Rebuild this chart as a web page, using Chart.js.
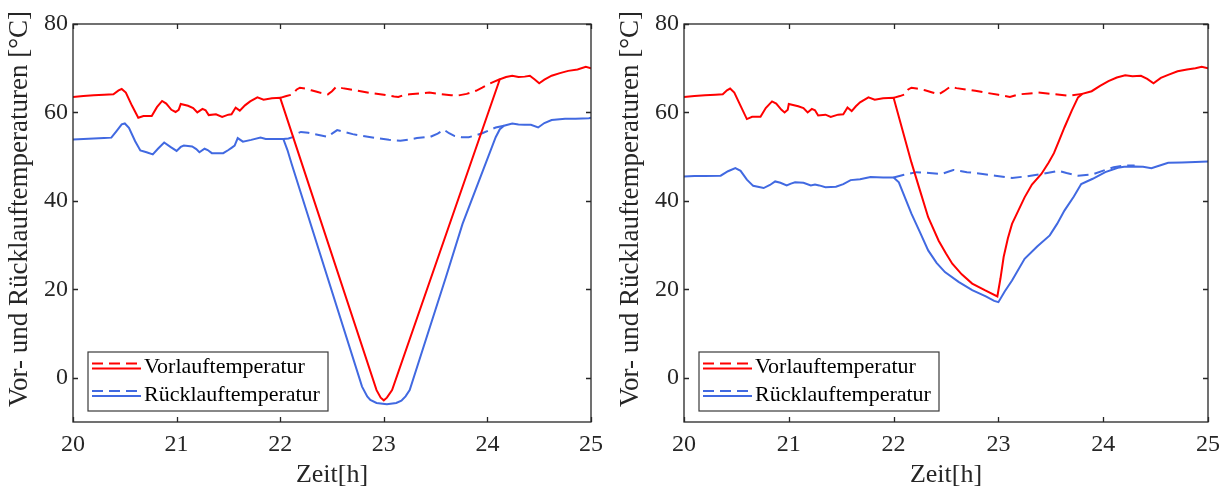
<!DOCTYPE html>
<html>
<head>
<meta charset="utf-8">
<script src="https://cdn.jsdelivr.net/npm/chart.js@4/dist/chart.umd.min.js"></script>
<style>
  body { margin: 0; background: #fff; }
  #wrap { position: relative; width: 1231px; height: 488px; overflow: hidden; }
  canvas { position: absolute; top: 0; }
</style>
</head>
<body>
<div id="wrap">
  <canvas id="chartLinks" width="611" height="488" style="left:0"></canvas>
  <canvas id="chartRechts" width="620" height="488" style="left:611px"></canvas>
</div>
<script>
// tick labels
const xTicks = [20, 21, 22, 23, 24, 25];
const yTicks = [0, 20, 40, 60, 80];
const legendLabels = ["Vorlauftemperatur", "Rücklauftemperatur"];
const yTitel = "Vor- und Rücklauftemperaturen [°C]";

// left plot: [time h, temperature °C]
const vorlaufLinks = [
  [20.0,63.5],[20.1,63.7],[20.2,63.9],[20.3,64.0],[20.39,64.1],[20.44,65.0],[20.47,65.3],[20.51,64.5],
  [20.57,61.5],[20.63,58.8],[20.68,59.2],[20.76,59.2],[20.81,61.2],[20.86,62.6],[20.9,62.0],[20.95,60.6],
  [20.99,60.1],[21.02,60.6],[21.04,61.9],[21.11,61.5],[21.16,61.0],[21.2,60.0],[21.25,60.8],[21.28,60.5],
  [21.31,59.4],[21.38,59.6],[21.44,59.0],[21.5,59.5],[21.53,59.6],[21.57,61.1],[21.61,60.4],[21.66,61.6],
  [21.71,62.5],[21.78,63.4],[21.84,62.9],[21.92,63.2],[22.0,63.3],
  [22.93,-2.8],[22.97,-4.5],[23.0,-5.1],[23.03,-4.5],[23.08,-2.8],[24.12,67.5],
  [24.18,68.0],[24.24,68.3],[24.3,68.0],[24.36,68.1],[24.41,68.3],[24.46,67.4],[24.5,66.6],[24.55,67.4],
  [24.62,68.3],[24.7,68.9],[24.78,69.4],[24.87,69.7],[24.95,70.3],[25.0,70.0]
];
const vorlaufRefLinks = [
  [22.0,63.3],[22.06,63.7],[22.12,64.1],[22.16,65.2],[22.19,65.6],[22.24,65.4],[22.3,65.0],[22.38,64.5],
  [22.46,64.1],[22.5,64.8],[22.54,65.8],[22.6,65.5],[22.65,65.3],[22.75,64.9],[22.87,64.4],[23.0,64.0],
  [23.1,63.6],[23.14,63.5],[23.2,64.0],[23.25,64.1],[23.35,64.3],[23.44,64.5],[23.56,64.1],[23.65,63.9],
  [23.71,63.8],[23.8,64.2],[23.89,64.9],[23.95,65.6],[24.01,66.4],[24.06,66.9],[24.12,67.5]
];
const ruecklaufLinks = [
  [20.0,53.9],[20.1,54.0],[20.2,54.1],[20.3,54.2],[20.37,54.3],[20.42,55.8],[20.47,57.3],[20.5,57.5],
  [20.54,56.5],[20.6,53.5],[20.65,51.4],[20.71,51.0],[20.77,50.5],[20.82,51.8],[20.88,53.2],[20.94,52.2],
  [21.0,51.3],[21.04,52.2],[21.07,52.5],[21.15,52.3],[21.19,51.7],[21.22,51.0],[21.27,51.8],[21.3,51.5],
  [21.34,50.8],[21.45,50.8],[21.5,51.5],[21.53,52.0],[21.56,52.5],[21.59,54.2],[21.64,53.4],[21.72,53.8],
  [21.81,54.3],[21.86,54.0],[21.95,54.0],[22.03,54.0],
  [22.07,51.5],[22.11,48.4],[22.79,-2.0],[22.84,-4.2],[22.87,-5.0],[22.93,-5.7],[23.03,-6.0],[23.12,-5.7],
  [23.17,-5.2],[23.21,-4.2],[23.25,-2.8],[23.6,22.8],[23.76,34.8],[24.08,54.4],[24.12,56.2],[24.16,57.0],
  [24.24,57.5],[24.3,57.3],[24.36,57.2],[24.42,57.2],[24.49,56.6],[24.55,57.6],[24.62,58.3],[24.75,58.6],
  [24.85,58.6],[24.98,58.7],[25.0,58.8]
];
const ruecklaufRefLinks = [
  [22.03,54.0],[22.08,54.1],[22.12,54.4],[22.16,55.2],[22.2,55.6],[22.27,55.4],[22.33,55.1],[22.46,54.5],
  [22.5,55.2],[22.55,56.0],[22.62,55.6],[22.7,55.1],[22.8,54.7],[22.93,54.2],[23.05,53.8],[23.16,53.6],
  [23.25,53.9],[23.32,54.2],[23.45,54.5],[23.52,55.2],[23.58,56.1],[23.63,55.3],[23.68,54.7],[23.75,54.4],
  [23.82,54.4],[23.9,54.9],[23.95,55.3],[24.02,56.0],[24.08,56.6],[24.16,57.0]
];

// right plot
const vorlaufRechts = [
  [20.0,63.5],[20.1,63.7],[20.2,63.9],[20.3,64.0],[20.37,64.1],[20.41,65.0],[20.44,65.4],[20.48,64.5],
  [20.54,61.5],[20.6,58.5],[20.65,59.0],[20.73,59.0],[20.78,61.0],[20.84,62.5],[20.88,62.0],[20.93,60.6],
  [20.96,60.0],[20.99,60.6],[21.0,61.9],[21.09,61.4],[21.14,61.0],[21.18,60.0],[21.22,60.8],[21.25,60.5],
  [21.28,59.3],[21.35,59.5],[21.4,59.0],[21.47,59.5],[21.52,59.6],[21.56,61.1],[21.6,60.3],[21.64,61.4],
  [21.68,62.3],[21.76,63.4],[21.82,62.9],[21.9,63.2],[22.0,63.3],
  [22.17,48.7],[22.25,42.5],[22.33,36.3],[22.43,31.0],[22.5,28.1],[22.56,25.8],[22.65,23.4],[22.75,21.3],
  [22.87,19.8],[22.99,18.4],[23.02,22.5],[23.05,27.3],[23.09,31.5],[23.13,34.8],[23.19,37.8],[23.25,40.8],
  [23.32,43.7],[23.41,46.1],[23.48,48.7],[23.53,50.8],[23.58,53.7],[23.63,56.6],[23.7,60.4],[23.76,63.4],
  [23.8,64.2],[23.89,64.8],[23.97,66.0],[24.05,67.1],[24.13,67.9],[24.21,68.4],[24.28,68.2],[24.36,68.3],
  [24.42,67.6],[24.48,66.6],[24.55,67.8],[24.62,68.5],[24.71,69.3],[24.8,69.7],[24.88,70.0],[24.94,70.3],
  [25.0,70.0]
];
const vorlaufRefRechts = [
  [22.0,63.3],[22.06,63.7],[22.11,64.1],[22.14,65.2],[22.17,65.6],[22.22,65.4],[22.3,65.0],[22.37,64.5],
  [22.43,64.1],[22.48,64.8],[22.54,65.8],[22.6,65.5],[22.69,65.2],[22.78,64.9],[22.87,64.5],[23.0,64.0],
  [23.11,63.5],[23.2,64.1],[23.3,64.3],[23.38,64.5],[23.54,64.1],[23.67,63.8],[23.8,64.2]
];
const ruecklaufRechts = [
  [20.0,45.5],[20.1,45.6],[20.2,45.6],[20.35,45.7],[20.42,46.7],[20.49,47.4],[20.54,46.8],[20.6,44.8],
  [20.66,43.4],[20.76,42.9],[20.82,43.6],[20.87,44.4],[20.92,44.1],[20.98,43.5],[21.02,43.9],[21.06,44.2],
  [21.14,44.1],[21.21,43.5],[21.25,43.7],[21.29,43.5],[21.35,43.1],[21.45,43.2],[21.52,43.8],[21.59,44.7],
  [21.68,44.9],[21.78,45.4],[21.9,45.3],[22.0,45.3],
  [22.05,44.2],[22.17,37.1],[22.25,33.0],[22.33,28.8],[22.41,26.0],[22.49,23.9],[22.62,21.7],[22.75,19.8],
  [22.88,18.4],[22.96,17.4],[23.0,17.1],[23.06,19.5],[23.13,22.0],[23.25,26.9],[23.37,29.7],[23.49,32.2],
  [23.56,34.8],[23.63,37.8],[23.72,41.0],[23.79,43.8],[23.9,45.0],[24.02,46.5],[24.14,47.5],[24.2,47.7],
  [24.3,47.8],[24.38,47.7],[24.46,47.4],[24.54,48.0],[24.62,48.6],[24.75,48.7],[24.88,48.8],[25.0,48.9]
];
const ruecklaufRefRechts = [
  [22.0,45.3],[22.1,45.9],[22.22,46.5],[22.34,46.3],[22.46,46.1],[22.52,46.6],[22.57,47.0],[22.7,46.5],
  [22.85,46.1],[22.97,45.7],[23.13,45.2],[23.25,45.5],[23.4,46.0],[23.57,46.8],[23.65,46.3],[23.76,45.7],
  [23.9,46.0],[24.02,47.0],[24.1,47.6],[24.2,48.0],[24.3,48.0]
];

const ROT = "#ff0000";
const BLAU = "#4169e1";
const ACHSE = "#262626";
const FONT = "'Liberation Serif', 'Times New Roman', serif";
const DASH = [11, 6];

// box, inner ticks, y label and legend like the matlab figure
const rahmen = {
  id: "rahmen",
  afterDraw(chart) {
    const { ctx, chartArea: a, scales: { x, y } } = chart;
    ctx.save();
    ctx.strokeStyle = ACHSE;
    ctx.lineWidth = 1.3;
    ctx.strokeRect(a.left, a.top, a.right - a.left, a.bottom - a.top);
    ctx.beginPath();
    xTicks.forEach(v => {
      const px = Math.round(x.getPixelForValue(v)) + 0.5;
      ctx.moveTo(px, a.bottom); ctx.lineTo(px, a.bottom - 5);
      ctx.moveTo(px, a.top); ctx.lineTo(px, a.top + 5);
    });
    yTicks.forEach(v => {
      const py = Math.round(y.getPixelForValue(v)) + 0.5;
      ctx.moveTo(a.left, py); ctx.lineTo(a.left + 5, py);
      ctx.moveTo(a.right, py); ctx.lineTo(a.right - 5, py);
    });
    ctx.stroke();

    // y axis label, sits a bit above the axis middle in the original
    ctx.save();
    ctx.translate(20, (a.top + a.bottom) / 2 - 14);
    ctx.rotate(-Math.PI / 2);
    ctx.fillStyle = ACHSE;
    ctx.font = "27px " + FONT;
    ctx.textAlign = "center";
    ctx.textBaseline = "middle";
    ctx.fillText(yTitel, 0, 0);
    ctx.restore();

    // legend
    const bx = a.left + 15, by = a.bottom - 70, bw = 240, bh = 59;
    ctx.fillStyle = "#fff";
    ctx.fillRect(bx, by, bw, bh);
    ctx.strokeStyle = "#3a3a3a";
    ctx.lineWidth = 1.2;
    ctx.strokeRect(bx, by, bw, bh);
    [ROT, BLAU].forEach((c, i) => {
      const row = by + 14 + i * 27.5;
      ctx.strokeStyle = c;
      ctx.lineWidth = 2;
      ctx.setLineDash(DASH);
      ctx.beginPath(); ctx.moveTo(bx + 4, row - 2.5); ctx.lineTo(bx + 53, row - 2.5); ctx.stroke();
      ctx.setLineDash([]);
      ctx.beginPath(); ctx.moveTo(bx + 4, row + 2.5); ctx.lineTo(bx + 53, row + 2.5); ctx.stroke();
      ctx.fillStyle = "#000";
      ctx.font = "22px " + FONT;
      ctx.textAlign = "left";
      ctx.textBaseline = "alphabetic";
      ctx.fillText(legendLabels[i], bx + 56, row + 7);
    });
    ctx.restore();
  }
};

function toXY(arr) {
  return arr.map(p => ({ x: p[0], y: p[1] }));
}

function makeChart(id, vor, vorRef, rueck, rueckRef, padRight) {
  const line = (data, color, dashed, order) => ({
    data: toXY(data),
    borderColor: color,
    borderWidth: 2,
    borderDash: dashed ? DASH : [],
    pointRadius: 0,
    fill: false,
    tension: 0,
    order: order
  });
  new Chart(document.getElementById(id), {
    type: "line",
    data: {
      datasets: [
        line(vorRef, ROT, true, 2),
        line(vor, ROT, false, 1),
        line(rueckRef, BLAU, true, 4),
        line(rueck, BLAU, false, 3)
      ]
    },
    options: {
      responsive: false,
      animation: false,
      layout: { padding: { left: 0, right: padRight, top: 24, bottom: 0 } },
      plugins: { legend: { display: false }, tooltip: { enabled: false } },
      scales: {
        x: {
          type: "linear",
          min: 20,
          max: 25,
          afterBuildTicks: s => { s.ticks = xTicks.map(v => ({ value: v })); },
          afterFit: s => { s.height = 66; },
          grid: { display: true, drawOnChartArea: false, drawTicks: false },
          border: { display: false },
          ticks: { color: ACHSE, padding: 8, font: { family: FONT, size: 24 } },
          title: {
            display: true,
            text: "Zeit[h]",
            color: ACHSE,
            padding: 0,
            font: { family: FONT, size: 26, lineHeight: 1 }
          }
        },
        y: {
          min: -10,
          max: 80,
          afterBuildTicks: s => { s.ticks = yTicks.map(v => ({ value: v })); },
          afterFit: s => { s.width = 73; },
          grid: { display: true, drawOnChartArea: false, drawTicks: false },
          border: { display: false },
          ticks: { color: ACHSE, padding: 5, font: { family: FONT, size: 24 } }
        }
      }
    },
    plugins: [rahmen]
  });
}

makeChart("chartLinks", vorlaufLinks, vorlaufRefLinks, ruecklaufLinks, ruecklaufRefLinks, 15);
makeChart("chartRechts", vorlaufRechts, vorlaufRefRechts, ruecklaufRechts, ruecklaufRefRechts, 23);
</script>
</body>
</html>
